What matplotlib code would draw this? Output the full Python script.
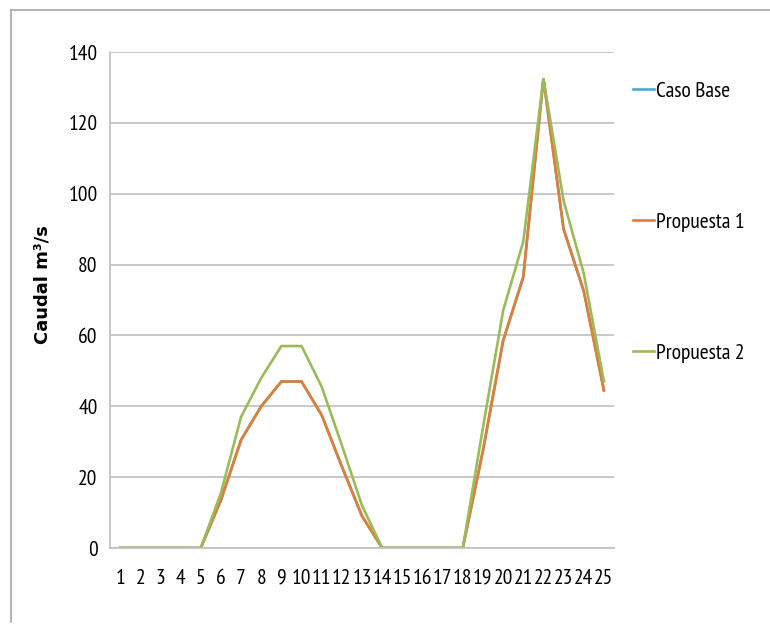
import matplotlib
matplotlib.use('Agg')
import matplotlib.pyplot as plt
from matplotlib.lines import Line2D

# hourly flow for each scenario
horas = list(range(1, 26))
caso_base = [0, 0, 0, 0, 0, 13.5, 30.5, 40, 47, 47, 37.5, 23, 9, 0,
             0, 0, 0, 0, 27.5, 58.5, 76.5, 132.5, 90, 72.5, 44.5]
propuesta_1 = [0, 0, 0, 0, 0, 13.5, 30.5, 40, 47, 47, 37.5, 23, 9, 0,
               0, 0, 0, 0, 27.5, 58.5, 76.5, 132.5, 90, 72.5, 44.5]
propuesta_2 = [0, 0, 0, 0, 0, 15.5, 37, 48, 57, 57, 45.5, 29, 12, 0,
               0, 0, 0, 0, 34, 67, 86.5, 132.5, 98, 77.5, 47]

series = [('Caso Base', caso_base, '#4BACC6'),
          ('Propuesta 1', propuesta_1, '#E57C34'),
          ('Propuesta 2', propuesta_2, '#9BBB59')]

narrow = ['PT Sans Narrow', 'DejaVu Sans']

fig = plt.figure(figsize=(7.7, 6.25), dpi=100)
ax = fig.add_axes([0.1429, 0.1232, 0.6545, 0.7936])

for nombre, valores, col in series:
    ax.plot(horas, valores, color=col, lw=1.9, label=nombre, solid_joinstyle='miter')

ax.set_xlim(0.5, 25.5)
ax.set_ylim(0, 140)
ax.set_yticks(range(0, 141, 20))
ax.set_xticks(horas)
ax.yaxis.grid(True, color='#BFBFBF', lw=1.2)
ax.set_axisbelow(True)

for s in ['top', 'right']:
    ax.spines[s].set_visible(False)
for s in ['left', 'bottom']:
    ax.spines[s].set_color('#BFBFBF')
    ax.spines[s].set_linewidth(1.2)

ax.tick_params(axis='y', length=0, pad=9)
ax.tick_params(axis='x', length=0, pad=15)
for lab in ax.get_xticklabels() + ax.get_yticklabels():
    lab.set_family(narrow)
    lab.set_fontsize(15.5)

fig.text(0.055, 0.545, 'Caudal m³/s', rotation=90, ha='center', va='center',
         fontsize=13, fontweight='bold', family='DejaVu Sans')

ax.legend(loc='center left', bbox_to_anchor=(0.822, 0.6448),
          bbox_transform=fig.transFigure, frameon=False,
          prop={'family': narrow, 'size': 15.5}, labelspacing=5.2,
          handlelength=1.0, handletextpad=0.05, borderpad=0, borderaxespad=0)

# outer frame, only the top and left edges show
fig.add_artist(Line2D([11 / 770, 1.0], [1 - 10 / 625, 1 - 10 / 625],
                      transform=fig.transFigure, color='#A6A6A6', lw=1.2))
fig.add_artist(Line2D([11 / 770, 11 / 770], [1 - 10 / 625, 1 - 622 / 625],
                      transform=fig.transFigure, color='#A6A6A6', lw=1.2))

fig.savefig('out.png', dpi=100)
